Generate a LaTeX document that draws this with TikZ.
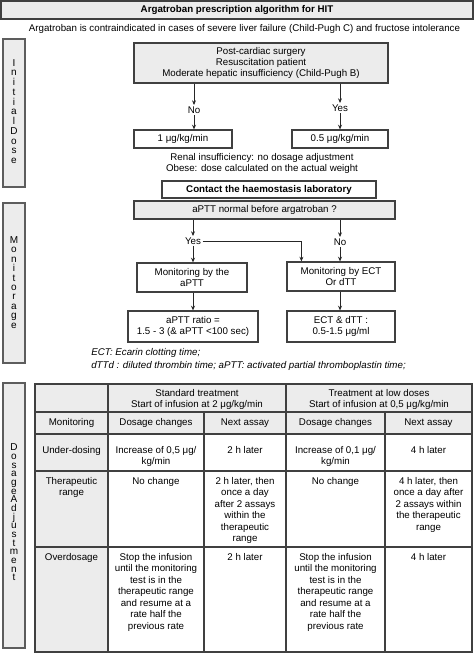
\documentclass[tikz,border=0pt]{standalone}
\usepackage{fontspec}
\setmainfont{Liberation Sans}
\usetikzlibrary{arrows.meta}
\definecolor{boxgray}{HTML}{ECECEC}
\definecolor{linegray}{HTML}{404040}
\begin{document}
\begin{tikzpicture}[x=0.75pt,y=-0.75pt,
  font=\fontsize{7.3}{8.6}\selectfont,
  box/.style={draw=linegray, line width=0.9pt, inner sep=0pt, align=center},
  gbox/.style={box, fill=boxgray},
  side/.style={draw=linegray!85, line width=1pt, fill=boxgray, inner sep=0pt},
  arr/.style={-{Stealth[length=3.5pt,width=3pt]}, line width=0.6pt, draw=black!85},
  lab/.style={inner sep=1pt},
  cell/.style={inner sep=0pt, align=center, anchor=north},
  tline/.style={draw=linegray, line width=0.85pt}]
\useasboundingbox (0,0) rectangle (474,655);

% title
\node[gbox, line width=1.1pt, draw=black!75, minimum width=354pt, minimum height=13.5pt] (title) at (237,10) {\textbf{Argatroban prescription algorithm for HIT}};
\node[inner sep=0pt] (sub) at (244.5,29) {Argatroban is contraindicated in cases of severe liver failure (Child-Pugh C) and fructose intolerance};

% side labels
\node[side, minimum width=16.5pt, minimum height=111pt] (s1) at (14,113) {};
\node[inner sep=0pt, align=center, font=\fontsize{7.5}{7.3}\selectfont] (s1t) at (14,111.5) {I\\n\\i\\t\\i\\a\\l\\D\\o\\s\\e};
\node[side, minimum width=16.5pt, minimum height=120pt] (s2) at (14,283) {};
\node[inner sep=0pt, align=center, font=\fontsize{7.5}{7.05}\selectfont] (s2t) at (14,282.5) {M\\o\\n\\i\\t\\o\\r\\a\\g\\e};
\node[side, minimum width=16.5pt, minimum height=198.75pt] (s3) at (14,515.5) {};
\node[inner sep=0pt, align=center, font=\fontsize{7.5}{6.5}\selectfont] (s3t) at (14,512.5) {D\\o\\s\\a\\g\\e\\A\\d\\j\\u\\s\\t\\m\\e\\n\\t};

% initial dose
\node[gbox, minimum width=190.5pt, minimum height=30pt] (pc) at (261,63) {Post-cardiac surgery\\Resuscitation patient\\Moderate hepatic insufficiency (Child-Pugh B)};
\node[lab] (no) at (194,110) {No};
\node[lab] (yes) at (340,108) {Yes};
\node[box, fill=white, minimum width=73.5pt, minimum height=13.5pt] (d1) at (183,139) {1 μg/kg/min};
\node[box, fill=white, minimum width=72pt, minimum height=13.5pt] (d2) at (340,139) {0.5 μg/kg/min};
\draw[arr] (pc.south -| no) -- (no.north);
\draw[arr] (no.south) -- (d1.north -| no);
\draw[arr] (pc.south -| yes) -- (yes.north);
\draw[arr] (yes.south) -- (d2.north -| yes);

\node[inner sep=0pt, align=center] (renal) at (262,163.5) {Renal insufficiency: no dosage adjustment\\Obese: dose calculated on the actual weight};
\node[box, fill=white, minimum width=160.5pt, minimum height=12.75pt] (contact) at (269,189.5) {\textbf{Contact the haemostasis laboratory}};
\node[gbox, minimum width=195.75pt, minimum height=13.5pt] (aptt) at (264.5,210) {aPTT normal before argatroban ?};

% monitoring
\node[lab] (yes2) at (193,241) {Yes};
\node[lab] (no2) at (340,242) {No};
\node[box, fill=white, minimum width=82.5pt, minimum height=21.75pt] (m1) at (192,277.5) {Monitoring by the\\aPTT};
\node[box, fill=white, minimum width=81pt, minimum height=21.75pt] (m2) at (341,276.5) {Monitoring by ECT\\Or dTT};
\node[box, fill=white, minimum width=97.5pt, minimum height=23.25pt] (r1) at (193,326.5) {aPTT ratio =\\1.5 - 3 (\& aPTT <100 sec)};
\node[box, fill=white, minimum width=81pt, minimum height=23.25pt] (r2) at (341,326.5) {ECT \& dTT :\\0.5-1.5 μg/ml};
\draw[arr] (aptt.south -| yes2) -- (yes2.north);
\draw[arr] (yes2.south) -- (m1.north -| yes2);
\draw[arr] (aptt.south -| no2) -- (no2.north);
\draw[arr] (no2.south) -- (m2.north -| no2);
\draw[arr] (yes2.east) -| ([xshift=11.25pt]m2.north west);
\draw[arr] (m1.south -| yes2) -- (r1.north -| yes2);
\draw[arr] (m2.south -| no2) -- (r2.north -| no2);

\node[inner sep=0pt, anchor=west] (fn1) at (91,353) {\itshape ECT: Ecarin clotting time;};
\node[inner sep=0pt, anchor=west] (fn2) at (91,366) {\itshape dTTd : diluted thrombin time; aPTT: activated partial thromboplastin time;};

% table
\fill[boxgray] (35,384) rectangle (472,434);
\fill[boxgray] (35,434) rectangle (108,652);
\draw[tline] (35,412) -- (472,412);
\draw[tline] (35,434) -- (472,434);
\draw[tline] (35,471) -- (472,471);
\draw[tline] (35,547) -- (472,547);
\draw[tline] (108,384) -- (108,652);
\draw[tline] (286,384) -- (286,652);
\draw[tline] (204,412) -- (204,652);
\draw[tline] (385,412) -- (385,652);
\draw[draw=black!75, line width=1.3pt] (35,384) rectangle (472,652);

\node[inner sep=0pt, align=center] (h1) at (197,399.5) {Standard treatment\\Start of infusion at 2 μg/kg/min};
\node[inner sep=0pt, align=center] (h2) at (379,399.5) {Treatment at low doses\\Start of infusion at 0,5 μg/kg/min};
\node[inner sep=0pt] (c21) at (71.5,423) {Monitoring};
\node[inner sep=0pt] (c22) at (156,423) {Dosage changes};
\node[inner sep=0pt] (c23) at (245,423) {Next assay};
\node[inner sep=0pt] (c24) at (335.5,423) {Dosage changes};
\node[inner sep=0pt] (c25) at (428.5,423) {Next assay};

\node[cell] (u1) at (71.5,446) {Under-dosing};
\node[cell] (u2) at (156,446) {Increase of 0,5 μg/\\kg/min};
\node[cell] (u3) at (245,446) {2 h later};
\node[cell] (u4) at (335.5,446) {Increase of 0,1 μg/\\kg/min};
\node[cell] (u5) at (428.5,446) {4 h later};

\node[cell] (t1) at (71.5,477) {Therapeutic\\range};
\node[cell] (t2) at (156,477) {No change};
\node[cell] (t3) at (245,477) {2 h later, then\\once a day\\after 2 assays\\within the\\therapeutic\\range};
\node[cell] (t4) at (335.5,477) {No change};
\node[cell] (t5) at (428.5,477) {4 h later, then\\once a day after\\2 assays within\\the therapeutic\\range};

\node[cell] (o1) at (71.5,553) {Overdosage};
\node[cell] (o2) at (156,553) {Stop the infusion\\until the monitoring\\test is in the\\therapeutic range\\and resume at a\\rate half the\\previous rate};
\node[cell] (o3) at (245,553) {2 h later};
\node[cell] (o4) at (335.5,553) {Stop the infusion\\until the monitoring\\test is in the\\therapeutic range\\and resume at a\\rate half the\\previous rate};
\node[cell] (o5) at (428.5,553) {4 h later};
\end{tikzpicture}
\end{document}
